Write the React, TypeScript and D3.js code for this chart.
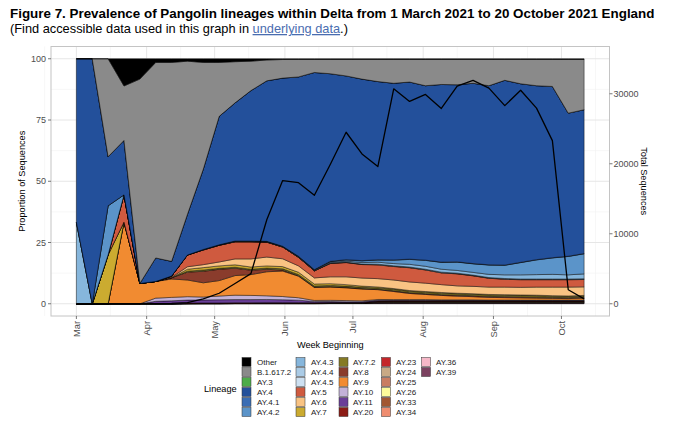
import * as d3 from 'd3';

// week beginning dates (x categories)
const weekStarts = [
  '2021-03-01', '2021-03-08', '2021-03-15', '2021-03-22', '2021-03-29',
  '2021-04-05', '2021-04-12', '2021-04-19', '2021-04-26',
  '2021-05-03', '2021-05-10', '2021-05-17', '2021-05-24', '2021-05-31',
  '2021-06-07', '2021-06-14', '2021-06-21', '2021-06-28',
  '2021-07-05', '2021-07-12', '2021-07-19', '2021-07-26',
  '2021-08-02', '2021-08-09', '2021-08-16', '2021-08-23', '2021-08-30',
  '2021-09-06', '2021-09-13', '2021-09-20', '2021-09-27',
  '2021-10-04', '2021-10-11'
];

// proportion of sequences (%) per lineage, one value per week
const other = [0, 0, 0, 11.1, 8.3, 1.5, 1.5, 1.0, 1.5, 1.5, 1.2, 1.0, 0.5, 0.3, 0.3, 0.3, 0.3, 0.3, 0.3, 0.3, 0.3, 0.3, 0.3, 0.3, 0.3, 0.3, 0.3, 0.3, 0.3, 0.3, 0.3, 0.3, 0.3];
const b16172 = [0, 0, 40, 22.2, 83.4, 79.8, 81.2, 62.5, 43.5, 22.0, 16.8, 12.0, 8.5, 7.6, 7.1, 5.3, 5.8, 6.7, 8.0, 9.0, 9.7, 9.2, 10.7, 10.2, 10.3, 9.7, 10.7, 8.5, 9.9, 10.7, 11.0, 21.9, 20.5];
const ay3 = [0, 0, 0, 0, 0, 0, 0, 0, 0, 0, 0, 0, 0, 0, 0, 0, 0, 0, 0, 0, 0, 0, 0, 0, 0, 0, 0, 0, 0, 0, 0, 0, 0];
const ay4 = [66.7, 100, 20, 22.2, 0, 9.6, 6.0, 16.6, 32.8, 52.4, 56.4, 61.4, 65.5, 68.6, 73.2, 80.4, 76.6, 75.0, 74.1, 72.7, 72.1, 72.3, 71.2, 72.5, 72.3, 73.6, 73.1, 75.4, 72.9, 71.0, 69.9, 58.4, 58.7];
const ay41 = [0, 0, 0, 0, 0, 0, 0, 0, 0, 0, 0, 0, 0, 0, 0, 0.1, 0.1, 0.1, 0.1, 0.1, 0.1, 0.1, 0.1, 0.1, 0.1, 0.1, 0.1, 0.1, 0.1, 0.1, 0.1, 0.1, 0.1];
const ay42 = [0, 0, 20, 0, 0, 0, 0, 0, 0, 0, 0, 0, 0, 0, 0.2, 0.2, 0.3, 0.5, 0.7, 0.9, 1.4, 2.0, 2.4, 2.8, 3.4, 3.5, 3.8, 3.9, 5.0, 6.0, 6.7, 7.5, 8.2];
const ay43 = [33.3, 0, 0, 0, 0, 0, 0, 0, 0.2, 0.2, 0.3, 0.3, 0.3, 0.3, 0.2, 0.2, 0.3, 0.4, 0.6, 0.8, 0.9, 1.1, 1.2, 1.2, 1.1, 1.1, 1.3, 1.5, 1.7, 1.8, 1.9, 1.7, 2.0];
const ay44 = [0, 0, 0, 0, 0, 0, 0, 0, 0, 0, 0, 0, 0, 0, 0, 0, 0.1, 0.1, 0.1, 0.2, 0.2, 0.2, 0.2, 0.2, 0.2, 0.2, 0.2, 0.2, 0.2, 0.2, 0.2, 0.2, 0.2];
const ay45 = [0, 0, 0, 0, 0, 0, 0, 0, 0, 0, 0, 0, 0, 0, 0, 0, 0.1, 0.1, 0.1, 0.1, 0.1, 0.1, 0.1, 0.1, 0.1, 0.1, 0.1, 0.1, 0.1, 0.1, 0.1, 0.1, 0.1];
const ay5 = [0, 0, 0, 11.1, 0, 0, 0.5, 4.8, 6.0, 6.8, 7.0, 7.0, 6.1, 4.8, 3.5, 2.9, 5.4, 5.8, 5.5, 5.6, 5.5, 5.8, 5.4, 4.8, 4.9, 4.3, 3.6, 3.2, 3.1, 3.0, 3.0, 3.0, 3.0];
const ay6 = [0, 0, 0, 0, 0, 0, 0.2, 1.0, 1.2, 1.6, 2.4, 3.3, 3.6, 3.2, 2.6, 2.5, 2.8, 3.2, 3.3, 3.4, 3.5, 3.5, 3.4, 3.2, 3.0, 3.0, 3.0, 3.1, 3.1, 3.3, 3.5, 3.6, 3.5];
const ay7 = [0, 0, 20, 0, 0, 0, 0, 0.8, 1.0, 1.0, 1.0, 0.9, 0.9, 0.9, 0.9, 0.8, 0.7, 0.6, 0.5, 0.4, 0.3, 0.3, 0.3, 0.3, 0.2, 0.2, 0.2, 0.2, 0.2, 0.2, 0.2, 0.2, 0.2];
const ay72 = [0, 0, 0, 0, 0, 0, 0, 0.4, 0.5, 0.4, 0.4, 0.4, 0.5, 0.5, 0.5, 0.4, 0.5, 0.5, 0.5, 0.5, 0.6, 0.6, 0.6, 0.6, 0.6, 0.6, 0.6, 0.6, 0.6, 0.6, 0.5, 0.5, 0.5];
const ay8 = [0, 0, 0, 0, 0, 0, 0.5, 3.2, 4.7, 4.6, 3.0, 1.8, 1.0, 0.4, 0.2, 0.2, 0.2, 0.2, 0.2, 0.2, 0.3, 0.3, 0.3, 0.3, 0.4, 0.4, 0.4, 0.4, 0.4, 0.4, 0.4, 0.4, 0.4];
const ay9 = [0, 0, 0, 33.3, 8.3, 6.8, 7.5, 6.8, 5.8, 6.3, 8.0, 8.5, 9.8, 10.4, 8.8, 5.3, 5.4, 5.2, 4.8, 4.0, 3.3, 2.5, 2.1, 1.8, 1.5, 1.3, 1.1, 1.0, 0.9, 0.8, 0.7, 0.6, 0.8];
const ay10 = [0, 0, 0, 0, 0, 1.3, 1.4, 1.4, 1.2, 1.5, 1.8, 1.7, 1.5, 1.3, 1.0, 0.4, 0.5, 0.5, 0.4, 0.3, 0.3, 0.3, 0.3, 0.2, 0.2, 0.2, 0.2, 0.2, 0.2, 0.2, 0.2, 0.2, 0.2];
const ay11 = [0, 0, 0, 0, 0, 1.0, 1.2, 1.2, 1.2, 1.3, 1.3, 1.3, 1.3, 1.2, 1.0, 0.5, 0.4, 0.3, 0.3, 0.3, 0.2, 0.2, 0.2, 0.2, 0.2, 0.2, 0.1, 0.1, 0.1, 0.1, 0.1, 0.1, 0.1];
const ay20 = [0, 0, 0, 0, 0, 0, 0, 0.15, 0.15, 0.15, 0.15, 0.15, 0.15, 0.15, 0.15, 0.1, 0.1, 0.1, 0.1, 0.1, 0.1, 0.1, 0.1, 0.1, 0.1, 0.1, 0.1, 0.1, 0.1, 0.1, 0.1, 0.1, 0.1];
const ay23 = [0, 0, 0, 0, 0, 0, 0, 0.1, 0.1, 0.1, 0.1, 0.1, 0.1, 0.1, 0.1, 0.1, 0.1, 0.1, 0.1, 0.15, 0.15, 0.15, 0.15, 0.15, 0.15, 0.15, 0.15, 0.15, 0.15, 0.15, 0.15, 0.15, 0.15];
const ay24 = [0, 0, 0, 0, 0, 0, 0, 0, 0, 0, 0, 0, 0.05, 0.05, 0.05, 0.05, 0.05, 0.05, 0.05, 0.1, 0.1, 0.1, 0.1, 0.1, 0.1, 0.1, 0.1, 0.1, 0.1, 0.1, 0.1, 0.1, 0.1];
const ay25 = [0, 0, 0, 0, 0, 0, 0, 0, 0.05, 0.05, 0.05, 0.05, 0.05, 0.05, 0.05, 0.05, 0.05, 0.05, 0.05, 0.15, 0.15, 0.15, 0.15, 0.15, 0.15, 0.15, 0.15, 0.15, 0.15, 0.15, 0.15, 0.15, 0.15];
const ay26 = [0, 0, 0, 0, 0, 0, 0, 0, 0, 0, 0, 0, 0, 0, 0, 0, 0, 0, 0, 0.05, 0.05, 0.05, 0.05, 0.05, 0.05, 0.05, 0.05, 0.05, 0.05, 0.05, 0.05, 0.05, 0.05];
const ay33 = [0, 0, 0, 0, 0, 0, 0, 0, 0, 0, 0, 0, 0, 0, 0, 0.05, 0.05, 0.05, 0.05, 0.15, 0.15, 0.15, 0.15, 0.15, 0.15, 0.15, 0.15, 0.15, 0.15, 0.15, 0.15, 0.15, 0.15];
const ay34 = [0, 0, 0, 0, 0, 0, 0, 0, 0, 0, 0.05, 0.05, 0.05, 0.05, 0.05, 0.05, 0.05, 0.05, 0.05, 0.15, 0.15, 0.15, 0.15, 0.15, 0.15, 0.15, 0.15, 0.15, 0.15, 0.15, 0.15, 0.15, 0.15];
const ay36 = [0, 0, 0, 0, 0, 0, 0, 0, 0, 0, 0, 0, 0, 0, 0, 0, 0, 0, 0, 0, 0.05, 0.05, 0.05, 0.05, 0.05, 0.05, 0.05, 0.05, 0.05, 0.05, 0.05, 0.05, 0.05];
const ay39 = [0, 0, 0, 0, 0, 0, 0, 0.05, 0.05, 0.05, 0.05, 0.05, 0.05, 0.05, 0.05, 0.05, 0.1, 0.1, 0.1, 0.3, 0.3, 0.3, 0.3, 0.3, 0.3, 0.3, 0.3, 0.3, 0.3, 0.3, 0.3, 0.3, 0.3];

// total sequences per week (secondary axis)
const totalSequences = [3, 2, 5, 9, 12, 25, 60, 150, 700, 1500, 2900, 4300, 12000, 17600, 17300, 15500, 19900, 24500, 21400, 19600, 30700, 28900, 29900, 27900, 31100, 31900, 30800, 28300, 30500, 27950, 23300, 2000, 700];

const lineageNames = ['Other', 'B.1.617.2', 'AY.3', 'AY.4', 'AY.4.1', 'AY.4.2', 'AY.4.3', 'AY.4.4', 'AY.4.5', 'AY.5', 'AY.6', 'AY.7', 'AY.7.2', 'AY.8', 'AY.9', 'AY.10', 'AY.11', 'AY.20', 'AY.23', 'AY.24', 'AY.25', 'AY.26', 'AY.33', 'AY.34', 'AY.36', 'AY.39'];
const lineageColours = ['#000000', '#8a8a8a', '#4dac4a', '#23509b', '#3a6db4', '#5b94c9', '#86b6dc', '#aacbe6', '#cde0f1', '#cf5a3f', '#f9c383', '#cbab30', '#857a25', '#8a3c2c', '#f18b31', '#c3b2d8', '#6a3e98', '#8c1c15', '#c4262a', '#c8a985', '#c97d62', '#fdfc9b', '#a25632', '#ef8c6f', '#f7b8c8', '#7c4160'];
const lineageSeries = [other, b16172, ay3, ay4, ay41, ay42, ay43, ay44, ay45, ay5, ay6, ay7, ay72, ay8, ay9, ay10, ay11, ay20, ay23, ay24, ay25, ay26, ay33, ay34, ay36, ay39];

const monthTicks = ['2021-03-01', '2021-04-01', '2021-05-01', '2021-06-01', '2021-07-01', '2021-08-01', '2021-09-01', '2021-10-01'];
const monthLabels = ['Mar', 'Apr', 'May', 'Jun', 'Jul', 'Aug', 'Sep', 'Oct'];
const minorMonthTicks = ['2021-02-15', '2021-03-16', '2021-04-16', '2021-05-16', '2021-06-16', '2021-07-16', '2021-08-16', '2021-09-16', '2021-10-16'];
const proportionTicks = [0, 25, 50, 75, 100];
const proportionMinor = [12.5, 37.5, 62.5, 87.5];
const totalTicks = [0, 10000, 20000, 30000];
const totalPerPercent = 350;

const parse = d3.utcParse('%Y-%m-%d');

const left = 51;
const right = 609.5;
const top = 46.5;
const bottom = 316;
const font = '"Liberation Sans", Arial, Helvetica, sans-serif';

export default function App() {
  const dates = weekStarts.map((d) => parse(d) as Date);
  const d0 = dates[0].getTime();
  const d1 = dates[dates.length - 1].getTime();
  const pad = (d1 - d0) * 0.05;

  const x = d3.scaleUtc().domain([new Date(d0 - pad), new Date(d1 + pad)]).range([left, right]);
  const y = d3.scaleLinear().domain([-5, 105]).range([bottom, top]);

  const rows = dates.map((date, i) => {
    const row: Record<string, any> = { date };
    lineageNames.forEach((name, j) => {
      row[name] = lineageSeries[j][i];
    });
    return row;
  });

  // ggplot stacks the first level on top, so the stack starts from the last one
  const keys = lineageNames.slice().reverse();
  const series = d3.stack<Record<string, any>>().keys(keys).offset(d3.stackOffsetExpand)(rows);

  const area = d3
    .area<d3.SeriesPoint<Record<string, any>>>()
    .x((d) => x(d.data.date))
    .y0((d) => y(d[0] * 100))
    .y1((d) => y(d[1] * 100));

  const totalLine = d3
    .line<number>()
    .x((_, i) => x(dates[i]))
    .y((v) => y(v / totalPerPercent));

  const colourOf = (name: string) => lineageColours[lineageNames.indexOf(name)];

  const legendKeyX = [242, 296, 339, 381.5, 421.5];
  const legendTextX = [257, 311, 353, 396, 436];

  return (
    <svg width={680} height={431} style={{ position: 'absolute', left: 0, top: 0, background: '#fff' }} fontFamily={font}>
      <text x={10} y={18} fontSize={13.4} fontWeight="bold" fill="#000">
        Figure 7. Prevalence of Pangolin lineages within Delta from 1 March 2021 to 20 October 2021 England
      </text>
      <text x={10} y={33} fontSize={12.8} fill="#000">
        (Find accessible data used in this graph in{' '}
        <tspan fill="#4a6db0" textDecoration="underline">underlying data</tspan>.)
      </text>

      {/* grid */}
      {minorMonthTicks.map((t) => (
        <line key={'vm' + t} x1={x(parse(t) as Date)} x2={x(parse(t) as Date)} y1={top} y2={bottom} stroke="#f2f2f2" strokeWidth={0.6} />
      ))}
      {proportionMinor.map((t) => (
        <line key={'hm' + t} x1={left} x2={right} y1={y(t)} y2={y(t)} stroke="#f2f2f2" strokeWidth={0.6} />
      ))}
      {monthTicks.map((t) => (
        <line key={'v' + t} x1={x(parse(t) as Date)} x2={x(parse(t) as Date)} y1={top} y2={bottom} stroke="#e6e6e6" strokeWidth={1} />
      ))}
      {proportionTicks.map((t) => (
        <line key={'h' + t} x1={left} x2={right} y1={y(t)} y2={y(t)} stroke="#e6e6e6" strokeWidth={1} />
      ))}

      {/* stacked areas */}
      {series.map((s) => (
        <path key={s.key} d={area(s) ?? ''} fill={colourOf(s.key)} stroke="#000" strokeWidth={0.45} strokeLinejoin="round" />
      ))}

      {/* total sequences */}
      <path d={totalLine(totalSequences) ?? ''} fill="none" stroke="#000" strokeWidth={1.3} strokeLinejoin="round" />

      <rect x={left} y={top} width={right - left} height={bottom - top} fill="none" stroke="#c4c4c4" strokeWidth={1} />

      {/* left axis */}
      {proportionTicks.map((t) => (
        <g key={'yl' + t}>
          <line x1={left - 3} x2={left} y1={y(t)} y2={y(t)} stroke="#555" strokeWidth={0.8} />
          <text x={left - 5} y={y(t)} dy="0.35em" textAnchor="end" fontSize={9} fill="#4d4d4d">
            {t}
          </text>
        </g>
      ))}
      <text transform={`translate(25,${(top + bottom) / 2}) rotate(-90)`} textAnchor="middle" fontSize={9.2} fill="#000">
        Proportion of Sequences
      </text>

      {/* right axis */}
      {totalTicks.map((t) => (
        <g key={'yr' + t}>
          <line x1={right} x2={right + 3} y1={y(t / totalPerPercent)} y2={y(t / totalPerPercent)} stroke="#555" strokeWidth={0.8} />
          <text x={right + 4} y={y(t / totalPerPercent)} dy="0.35em" textAnchor="start" fontSize={9} fill="#4d4d4d">
            {t}
          </text>
        </g>
      ))}
      <text transform={`translate(641,${(top + bottom) / 2}) rotate(90)`} textAnchor="middle" fontSize={9.2} fill="#000">
        Total Sequences
      </text>

      {/* bottom axis */}
      {monthTicks.map((t, i) => {
        const px = x(parse(t) as Date);
        return (
          <g key={'x' + t}>
            <line x1={px} x2={px} y1={bottom} y2={bottom + 3} stroke="#555" strokeWidth={0.8} />
            <text transform={`translate(${px},${bottom + 5}) rotate(-90)`} dy="0.35em" textAnchor="end" fontSize={9.3} fill="#4d4d4d">
              {monthLabels[i]}
            </text>
          </g>
        );
      })}
      <text x={(left + right) / 2} y={348} textAnchor="middle" fontSize={9.2} fill="#000">
        Week Beginning
      </text>

      {/* legend */}
      <text x={204} y={388.5} dy="0.35em" fontSize={9.2} fill="#000">
        Lineage
      </text>
      {lineageNames.map((name, j) => {
        const col = Math.floor(j / 6);
        const row = j % 6;
        const ky = 357.5 + row * 10;
        return (
          <g key={'lg' + name}>
            <rect x={legendKeyX[col]} y={ky} width={9} height={9} fill={lineageColours[j]} stroke="#333" strokeWidth={0.5} />
            <text x={legendTextX[col]} y={ky + 4.5} dy="0.35em" fontSize={8} fill="#1a1a1a">
              {name}
            </text>
          </g>
        );
      })}
    </svg>
  );
}
